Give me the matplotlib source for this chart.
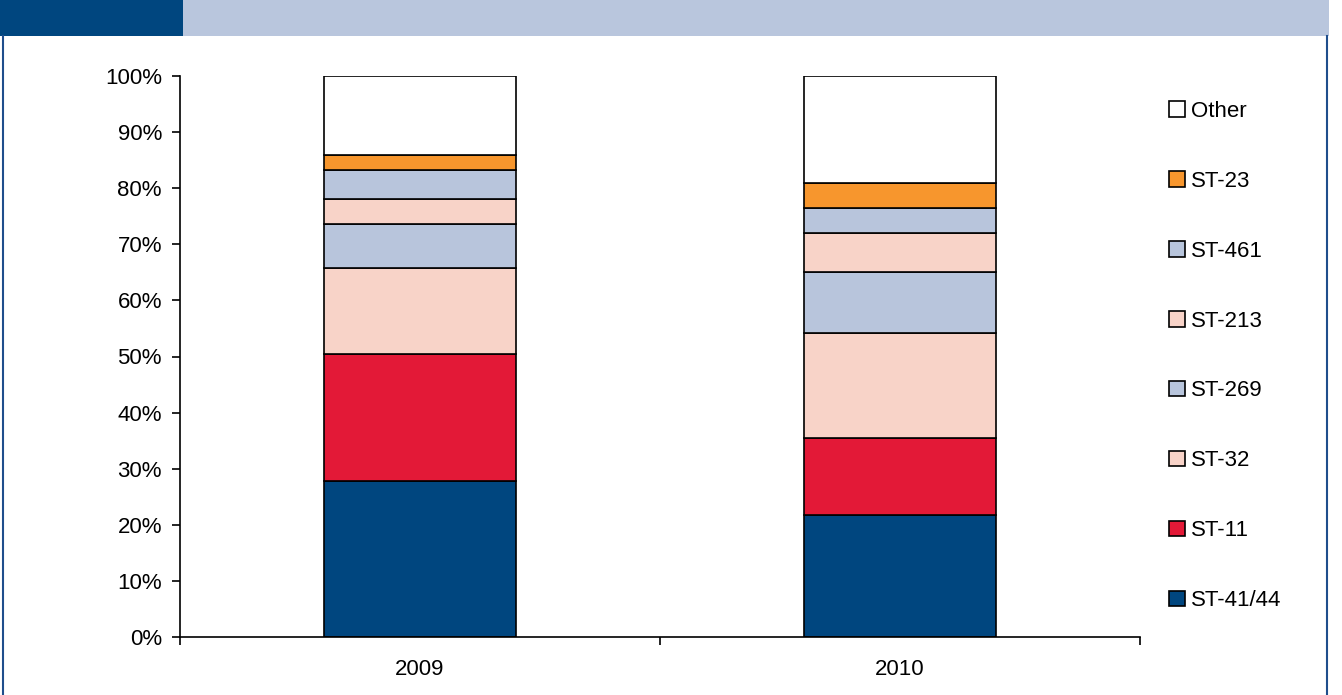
import matplotlib
matplotlib.use("Agg")
import matplotlib.pyplot as plt
from matplotlib.patches import Rectangle
from matplotlib.lines import Line2D
import numpy as np

plt.rcParams['font.family'] = ['Liberation Sans', 'DejaVu Sans']

years = ["2009", "2010"]
series = ["ST-41/44", "ST-11", "ST-32", "ST-269", "ST-213", "ST-461", "ST-23", "Other"]
values = {
    "ST-41/44": [27.8, 21.7],
    "ST-11":    [22.6, 13.8],
    "ST-32":    [15.4, 18.6],
    "ST-269":   [7.9, 11.0],
    "ST-213":   [4.4, 6.9],
    "ST-461":   [5.1, 4.5],
    "ST-23":    [2.8, 4.4],
    "Other":    [14.0, 19.1],
}
colors = {
    "ST-41/44": "#00467F",
    "ST-11":    "#E31937",
    "ST-32":    "#F8D3C8",
    "ST-269":   "#B8C5DC",
    "ST-213":   "#F8D3C8",
    "ST-461":   "#B8C5DC",
    "ST-23":    "#F7962D",
    "Other":    "#FFFFFF",
}

W, H = 1342, 695
FS = 16
fig = plt.figure(figsize=(W / 100, H / 100), dpi=100)

# header band and frame
fig.patches.append(Rectangle((0, 1 - 36 / H), 183 / W, 36 / H, transform=fig.transFigure,
                             facecolor="#00467F", edgecolor="none", zorder=0))
fig.patches.append(Rectangle((183 / W, 1 - 36 / H), (1329 - 183) / W, 36 / H, transform=fig.transFigure,
                             facecolor="#B9C6DD", edgecolor="none", zorder=0))
for xp in (3, 1327):
    fig.lines.append(Line2D([xp / W, xp / W], [0, 1 - 36 / H], transform=fig.transFigure,
                            color="#1F4E8C", lw=1.5))

ax = fig.add_axes([180 / W, (H - 637) / H, (1140 - 180) / W, (637 - 76) / H])
x = np.arange(len(years))
bottom = np.zeros(len(years))
handles = []
for s in series:
    v = np.array(values[s])
    b = ax.bar(x, v, 0.4, bottom=bottom, color=colors[s], edgecolor="black", linewidth=1.2, label=s)
    bottom += v
    handles.append(b)

ax.set_xlim(-0.5, 1.5)
ax.set_ylim(0, 100)
ax.set_yticks(np.arange(0, 101, 10))
ax.set_yticklabels([f"{t}%" for t in range(0, 101, 10)], fontsize=FS)
ax.set_xticks(x)
ax.set_xticklabels(years, fontsize=FS)
ax.tick_params(axis='x', length=0, pad=16)
ax.set_xticks([-0.5, 0.5, 1.5], minor=True)
ax.tick_params(axis='x', which='minor', length=6, width=1.2, direction='out')
ax.tick_params(axis='y', length=6, width=1.2, direction='out', pad=7)
for sp in ("top", "right"):
    ax.spines[sp].set_visible(False)
for sp in ("left", "bottom"):
    ax.spines[sp].set_linewidth(1.2)

leg = fig.legend(handles[::-1], series[::-1], loc="center left",
                 bbox_to_anchor=(1149 / W, 1 - 356 / H), frameon=False, fontsize=FS,
                 handlelength=0.7, handleheight=0.7, handletextpad=0.3, labelspacing=2.2)

fig.savefig("out.png", dpi=100)
